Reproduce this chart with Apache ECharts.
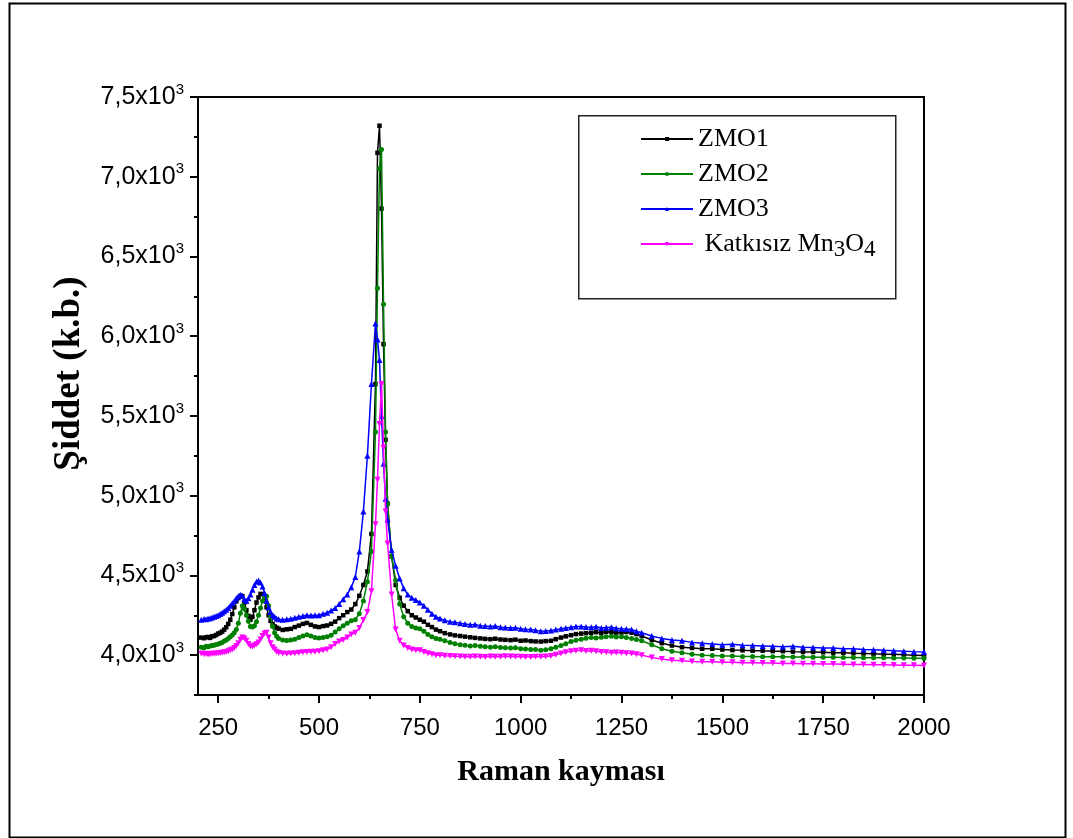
<!DOCTYPE html>
<html>
<head>
<meta charset="utf-8">
<script src="https://cdn.jsdelivr.net/npm/echarts@6/dist/echarts.min.js"></script>
<style>html,body{margin:0;padding:0;background:#fff}#c{width:1073px;height:838px}</style>
</head>
<body>
<div id="c"></div>
<script>
// Raman shift (cm-1) positions and intensities
const xLow = [208,215,220,225,230,235,240,245,250,255,260,265,270,275,280,285,290,295,300,305,310,315,320,325,330,335,340,345,350,355,360,365,370,375,380,385,390,395,400,410,420,430,440,450,460,470,480,490,500,510,520,530,540,550,560,570,580,590,600,610,620,630,640,645,650,655,660,665,670,680,690,700,710,720,730,740,750,760,770,780,790];
const xTail = [800,812,825,837,850,862,875,887,900,912,925,937,950,962,975,987,1000,1012,1025,1037,1050,1062,1075,1087,1100,1112,1125,1137,1150,1162,1175,1187,1200,1212,1225,1237,1250,1262,1275,1287,1300,1325,1350,1375,1400,1425,1450,1475,1500,1525,1550,1575,1600,1625,1650,1675,1700,1725,1750,1775,1800,1825,1850,1875,1900,1925,1950,1975,2000];

const zmo1Low = [4110,4106,4112,4114,4108,4118,4120,4126,4135,4140,4148,4160,4175,4196,4222,4258,4300,4338,4358,4372,4370,4330,4282,4246,4222,4240,4282,4330,4362,4384,4382,4350,4300,4250,4215,4195,4180,4172,4166,4158,4162,4165,4176,4185,4196,4202,4190,4180,4176,4182,4186,4196,4210,4232,4250,4270,4286,4320,4372,4440,4525,4760,5700,7150,7320,6800,5950,5350,4950,4620,4440,4360,4310,4276,4250,4236,4222,4210,4190,4176,4160];
const zmo1Tail = [4150,4138,4130,4124,4120,4116,4112,4108,4105,4102,4100,4103,4098,4096,4094,4097,4090,4092,4088,4086,4085,4088,4090,4100,4110,4118,4125,4132,4135,4138,4140,4144,4140,4146,4145,4141,4142,4145,4140,4132,4120,4095,4075,4060,4050,4045,4040,4040,4035,4032,4030,4028,4028,4025,4025,4022,4020,4020,4018,4015,4015,4012,4010,4008,4005,4005,4002,4000,3998];

const zmo2Low = [4050,4046,4055,4052,4058,4060,4062,4066,4070,4074,4080,4088,4095,4104,4115,4126,4140,4160,4200,4262,4310,4290,4250,4212,4180,4176,4185,4210,4250,4296,4340,4368,4370,4310,4240,4180,4140,4118,4105,4095,4092,4095,4100,4110,4120,4128,4120,4110,4108,4110,4115,4125,4145,4165,4185,4200,4215,4222,4260,4340,4460,4650,5400,6300,7050,7170,6200,5400,4950,4620,4470,4320,4240,4200,4180,4170,4165,4150,4130,4115,4105];
const zmo2Tail = [4100,4090,4080,4072,4065,4062,4058,4060,4055,4052,4050,4052,4048,4046,4045,4047,4040,4038,4035,4036,4030,4033,4040,4050,4060,4072,4085,4094,4100,4106,4110,4108,4112,4116,4118,4114,4115,4110,4105,4098,4090,4065,4040,4025,4015,4005,4000,3998,3995,3995,3992,3992,3990,3990,3990,3988,3988,3987,3987,3986,3985,3985,3984,3984,3983,3982,3982,3981,3980];

const zmo3Low = [4222,4226,4225,4230,4232,4236,4240,4246,4250,4258,4265,4275,4285,4296,4310,4326,4340,4356,4370,4378,4372,4352,4340,4356,4380,4410,4440,4460,4468,4456,4430,4390,4340,4300,4270,4252,4240,4230,4225,4222,4225,4228,4235,4240,4245,4250,4248,4250,4250,4260,4265,4280,4295,4320,4350,4380,4425,4490,4650,4900,5250,5700,6080,5980,5850,5500,5200,4980,4850,4660,4560,4480,4420,4380,4360,4345,4330,4310,4285,4260,4240];
const zmo3Tail = [4230,4218,4210,4206,4200,4196,4190,4192,4185,4182,4180,4183,4175,4173,4170,4172,4165,4162,4160,4156,4150,4152,4155,4160,4165,4170,4175,4180,4180,4176,4175,4178,4170,4174,4175,4168,4165,4164,4160,4150,4140,4120,4105,4095,4090,4080,4075,4070,4065,4068,4062,4060,4058,4055,4052,4055,4050,4048,4045,4044,4040,4040,4035,4033,4030,4028,4025,4022,4020];

const mnLow = [4010,4006,4008,4004,4005,4009,4008,4010,4012,4014,4015,4018,4020,4025,4030,4036,4045,4058,4075,4096,4110,4104,4090,4070,4055,4054,4060,4068,4080,4098,4120,4136,4140,4110,4075,4050,4035,4022,4015,4010,4008,4010,4012,4015,4018,4020,4022,4022,4025,4030,4035,4050,4070,4085,4095,4110,4130,4140,4170,4220,4270,4400,4820,5100,5450,5700,5300,4900,4700,4380,4160,4090,4060,4045,4035,4030,4030,4020,4012,4005,4000];
const mnTail = [4000,3996,3995,3993,3992,3990,3990,3992,3990,3988,3992,3990,3990,3993,3992,3990,3990,3988,3988,3990,3990,3992,3995,4002,4010,4018,4025,4028,4030,4026,4028,4024,4020,4018,4015,4017,4015,4012,4010,4005,4000,3985,3975,3968,3965,3960,3958,3958,3955,3955,3952,3952,3950,3950,3948,3948,3946,3946,3945,3944,3943,3942,3941,3940,3939,3938,3937,3936,3935];

const seriesNames = ['ZMO1','ZMO2','ZMO3','Katkısız Mn3O4'];
const xMajor = [250,500,750,1000,1250,1500,1750,2000];
const xMinor = [375,625,875,1125,1375,1625,1875];
const yMajor = [4000,4500,5000,5500,6000,6500,7000,7500];
const yMinor = [3750,4250,4750,5250,5750,6250,6750,7250];

function pairs(xa, ya) { return xa.map((x, i) => [x, ya[i]]); }
const xs = xLow.concat(xTail);
const data = [
  pairs(xs, zmo1Low.concat(zmo1Tail)),
  pairs(xs, zmo2Low.concat(zmo2Tail)),
  pairs(xs, zmo3Low.concat(zmo3Tail)),
  pairs(xs, mnLow.concat(mnTail))
];
const colors = ['#000000','#008000','#0000ff','#ff00ff'];
const symbols = ['rect','circle','triangle','triangle'];
const rotates = [0,0,0,180];
const sizes = [4.5,5,6,6];

const chart = echarts.init(document.getElementById('c'));
const sans = 'Liberation Sans, Arial, sans-serif';
const serif = 'Liberation Serif, Times New Roman, serif';

chart.setOption({
  animation: false,
  backgroundColor: '#fff',
  grid: { left: 198, right: 149, top: 97, bottom: 143, show: true, borderColor: '#000', borderWidth: 2, containLabel: false },
  legend: {
    orient: 'vertical', left: 635, top: 121,
    itemWidth: 52, itemHeight: 5, itemGap: 9,
    data: seriesNames,
    textStyle: { fontFamily: serif, fontSize: 26, color: '#000', lineHeight: 26,
      rich: { n: { fontFamily: serif, fontSize: 26, lineHeight: 26, color: '#000', verticalAlign: 'top' },
              s: { fontFamily: serif, fontSize: 23, lineHeight: 26, padding: [7, 0, 0, 0], verticalAlign: 'top', color: '#000' } } },
    formatter: function (n) {
      if (n === 'Katkısız Mn3O4') return '{n| Katkısız Mn}{s|3}{n|O}{s|4}';
      return '{n|' + n + '}';
    }
  },
  xAxis: [{
    type: 'value', min: 200, max: 2000,
    name: 'Raman kayması', nameLocation: 'middle', nameGap: 62,
    nameTextStyle: { fontFamily: serif, fontSize: 30, fontWeight: 'bold', color: '#000' },
    axisLine: { lineStyle: { color: '#000', width: 2 } },
    axisTick: { length: 8, lineStyle: { color: '#000', width: 2 }, customValues: xMajor },
    axisLabel: { customValues: xMajor, fontFamily: sans, fontSize: 24, color: '#000', margin: 21,
      formatter: function (v) { return String(v); } },
    splitLine: { show: false }
  }, {
    type: 'value', min: 200, max: 2000, position: 'bottom',
    axisLine: { show: false },
    axisTick: { length: 4, lineStyle: { color: '#000', width: 2 }, customValues: xMinor },
    axisLabel: { show: false }, splitLine: { show: false }
  }],
  yAxis: [{
    type: 'value', min: 3750, max: 7500,
    name: 'Şiddet (k.b.)', nameLocation: 'middle', nameGap: 110,
    nameTextStyle: { fontFamily: serif, fontSize: 37, fontWeight: 'bold', color: '#000', padding: [0, 0, 0, 45] },
    axisLine: { lineStyle: { color: '#000', width: 2 } },
    axisTick: { length: 8, lineStyle: { color: '#000', width: 2 }, customValues: yMajor },
    axisLabel: {
      customValues: yMajor, margin: 14,
      formatter: function (v) { return '{b|' + (v / 1000).toFixed(1).replace('.', ',') + 'x10}{s|3}'; },
      rich: { b: { fontFamily: sans, fontSize: 25, color: '#000', lineHeight: 30 },
              s: { fontFamily: sans, fontSize: 15, color: '#000', verticalAlign: 'top', lineHeight: 30 } }
    },
    splitLine: { show: false }
  }, {
    type: 'value', min: 3750, max: 7500, position: 'left',
    axisLine: { show: false },
    axisTick: { length: 4, lineStyle: { color: '#000', width: 2 }, customValues: yMinor },
    axisLabel: { show: false }, splitLine: { show: false }
  }],
  graphic: [
    { type: 'rect', left: 7, top: 1, shape: { width: 1056, height: 834 }, style: { fill: 'none', stroke: '#000', lineWidth: 2 }, silent: true, z: -1 },
    { type: 'rect', left: 578, top: 115, shape: { width: 317, height: 183 }, style: { fill: '#fff', stroke: '#222', lineWidth: 1.5 }, silent: true, z: 1 }
  ],
  series: seriesNames.map((n, i) => ({
    name: n, type: 'line', data: data[i],
    xAxisIndex: 0, yAxisIndex: 0,
    symbol: symbols[i], symbolRotate: rotates[i], symbolSize: sizes[i],
    showSymbol: true, showAllSymbol: true,
    lineStyle: { color: colors[i], width: 1.5 },
    itemStyle: { color: colors[i] },
    z: 2 + i
  }))
});
</script>
</body>
</html>
